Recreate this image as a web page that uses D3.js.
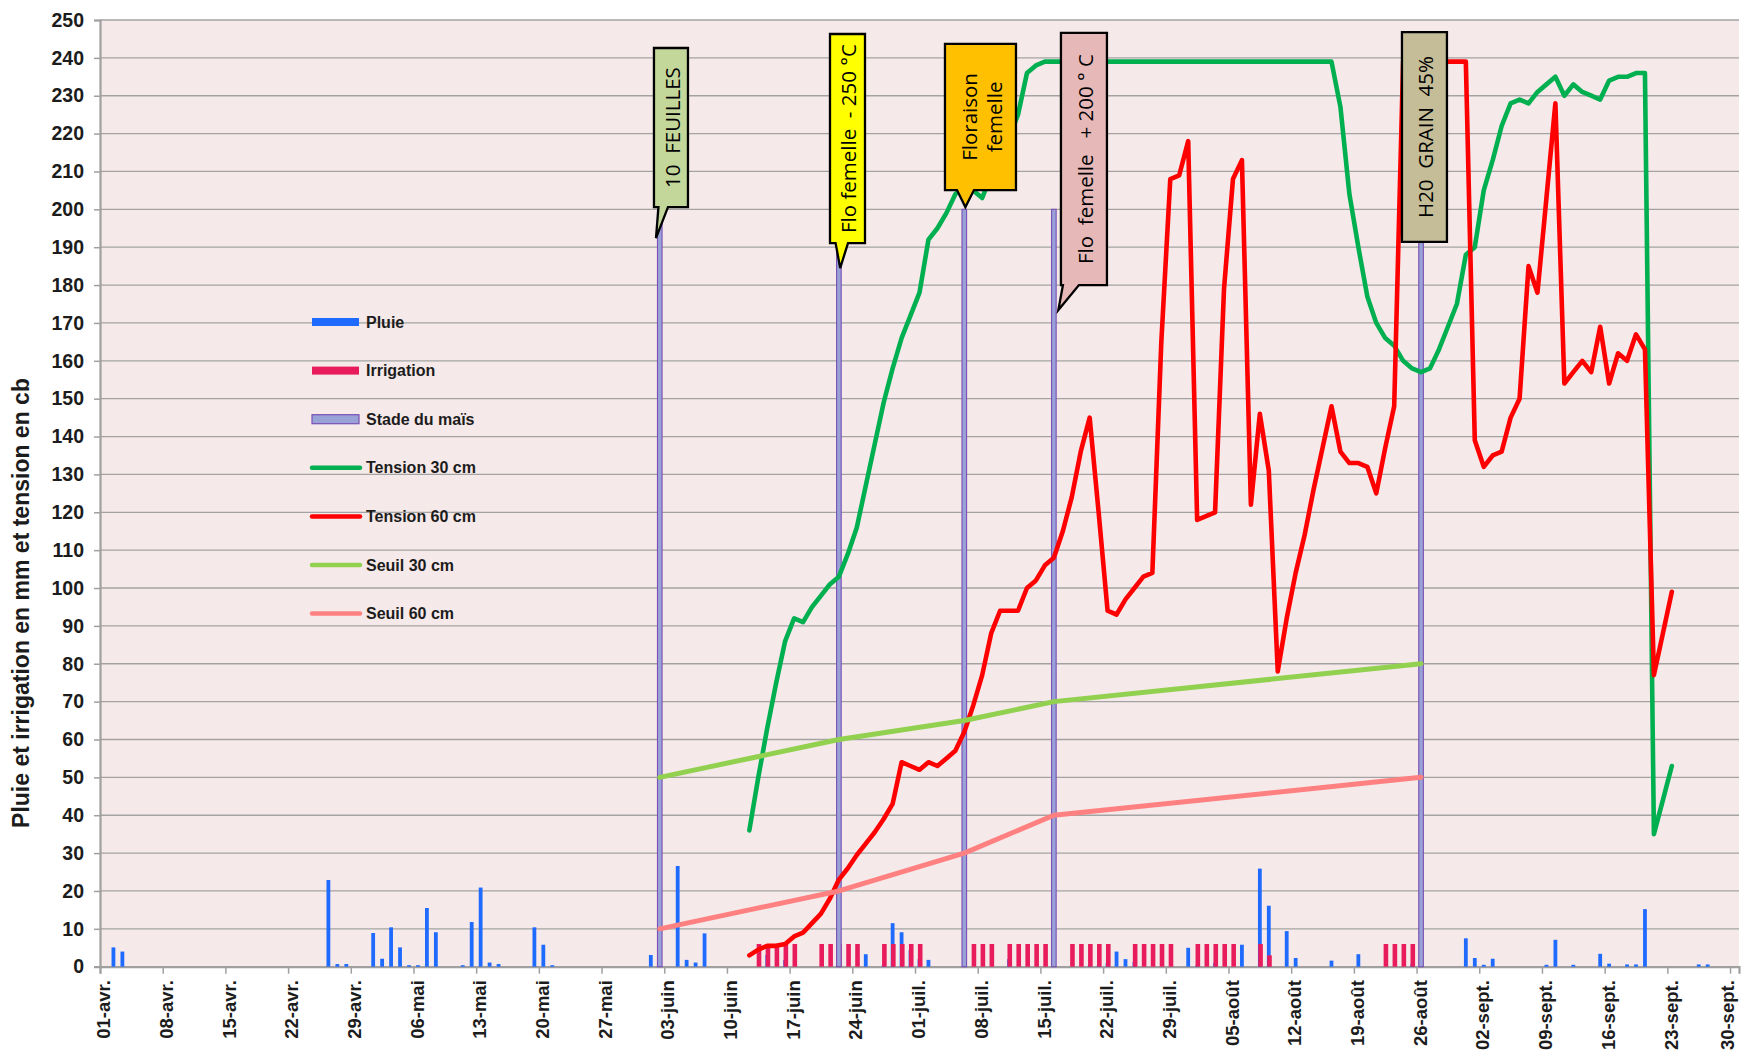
<!DOCTYPE html>
<html><head><meta charset="utf-8">
<script src="https://cdn.jsdelivr.net/npm/d3@7"></script>
<style>
html,body{margin:0;padding:0;background:#fff;}
svg{display:block;}
</style></head>
<body>
<svg id="chart" width="1742" height="1056"></svg>
<script>
// ---------------- DATA ----------------
const axisStart = "2013-04-01";
const axisEnd = "2013-10-01";
const yTickValues = [0,10,20,30,40,50,60,70,80,90,100,110,120,130,140,150,160,170,180,190,200,210,220,230,240,250];
const xTickLabels = ["01-avr.","08-avr.","15-avr.","22-avr.","29-avr.","06-mai","13-mai","20-mai","27-mai",
  "03-juin","10-juin","17-juin","24-juin","01-juil.","08-juil.","15-juil.","22-juil.","29-juil.",
  "05-août","12-août","19-août","26-août","02-sept.","09-sept.","16-sept.","23-sept.","30-sept."];
const yTitle = "Pluie et irrigation en mm et tension en cb";

const pluieDates = ["2013-04-02","2013-04-03","2013-04-26","2013-04-27","2013-04-28","2013-05-01","2013-05-02","2013-05-03",
  "2013-05-04","2013-05-05","2013-05-06","2013-05-07","2013-05-08","2013-05-11","2013-05-12","2013-05-13","2013-05-14",
  "2013-05-15","2013-05-19","2013-05-20","2013-05-21","2013-06-01","2013-06-04","2013-06-05","2013-06-06","2013-06-07",
  "2013-06-14","2013-06-16","2013-06-25","2013-06-27","2013-06-28","2013-06-29","2013-06-30","2013-07-01","2013-07-02",
  "2013-07-11","2013-07-20","2013-07-21","2013-07-22","2013-07-23","2013-07-24","2013-07-25","2013-07-31","2013-08-01",
  "2013-08-03","2013-08-06","2013-08-08","2013-08-09","2013-08-11","2013-08-12","2013-08-16","2013-08-19","2013-08-25",
  "2013-08-31","2013-09-01","2013-09-02","2013-09-03","2013-09-09","2013-09-10","2013-09-12","2013-09-15","2013-09-16",
  "2013-09-18","2013-09-19","2013-09-20","2013-09-26","2013-09-27"];
const pluieValues = [5.1,4.0,22.9,0.7,0.7,8.9,2.1,10.4,
  5.1,0.4,0.4,15.5,9.1,0.4,11.8,20.9,1.1,
  0.7,10.4,5.8,0.4,3.1,26.6,1.8,1.1,8.8,
  3.1,1.8,3.3,0.4,11.5,9.1,4.4,2.0,1.8,
  2.0,0.3,0.3,1.0,4.0,2.0,1.3,5.0,0.3,
  1.0,5.8,25.9,16.1,9.4,2.3,1.6,3.3,0.6,
  7.5,2.3,0.5,2.1,0.5,7.1,0.5,3.4,0.8,
  0.6,0.6,15.2,0.6,0.6];

const irrigationDates = ["2013-06-13","2013-06-14","2013-06-15","2013-06-16","2013-06-17",
  "2013-06-20","2013-06-21","2013-06-22","2013-06-23","2013-06-24",
  "2013-06-27","2013-06-28","2013-06-29","2013-06-30","2013-07-01",
  "2013-07-07","2013-07-08","2013-07-09",
  "2013-07-11","2013-07-12","2013-07-13","2013-07-14","2013-07-15",
  "2013-07-18","2013-07-19","2013-07-20","2013-07-21","2013-07-22",
  "2013-07-25","2013-07-26","2013-07-27","2013-07-28","2013-07-29",
  "2013-08-01","2013-08-02","2013-08-03","2013-08-04","2013-08-05",
  "2013-08-08","2013-08-09",
  "2013-08-22","2013-08-23","2013-08-24","2013-08-25"];
const irrigationValues = [6,6,6,6,6, 6,6,6,6,6, 6,6,6,6,6, 6,6,6, 6,6,6,6,6, 6,6,6,6,6, 6,6,6,6,6, 6,6,6,6,6, 6,3, 6,6,6,6];

const stadeDates = ["2013-06-02","2013-06-22","2013-07-06","2013-07-16","2013-08-26"];
const stadeValues = [200,200,200,200,200];
const stadeLabels = [["10  FEUILLES"],["Flo femelle  - 250 °C"],["Floraison","femelle"],["Flo  femelle   + 200 ° C"],["H20  GRAIN  45%"]];

const tensionStart = "2013-06-12";
const tension30 = [36,50,63,75,86,92,91,95,98,101,
  103,109,116,127,138,149,158,166,172,178,
  192,195,199,204,206,205,203,209,214,219,
  225,236,238,
  239,239,239,239,239,239,239,239,239,239,239,239,239,239,239,239,239,239,239,239,239,239,239,239,239,239,239,239,239,239,239,239,239,
  227,204,190,177,170,166,164,160,158,157,
  158,163,169,175,188,190,205,213,222,228,
  229,228,231,233,235,230,233,231,230,229,
  234,235,235,236,236,35,44,53];
const tension60 = [3,4.5,5.5,5.5,6,8,9,11.5,14,18,
  23,26,29.5,32.5,35.5,39,43,54,53,52,
  54,53,55,57,62,69,77,88,94,94,
  94,100,102,106,108,115,124,136,145,120,
  94,93,97,100,103,104,165,208,209,218,
  118,119,120,179,208,213,122,146,131,78,
  92,104,114,126,137,148,136,133,133,132,
  125,137,148,239,239,239,239,239,239,239,
  239,139,132,135,136,145,150,185,178,203,
  228,154,157,160,157,169,154,162,160,167,
  163,77,88,99];

const seuilDates = ["2013-06-02","2013-06-22","2013-07-06","2013-07-16","2013-08-26"];
const seuil30 = [50,60,65,70,80];
const seuil60 = [10,20,30,40,50];

const legendNames = ["Pluie","Irrigation","Stade du maïs","Tension 30 cm","Tension 60 cm","Seuil 30 cm","Seuil 60 cm"];

// ---------------- STYLE / LAYOUT ----------------
const C = {
  bg:"#f6e9e9", grid:"#a3a3a3", axis:"#a0a0a0", text:"#1c1c1c",
  pluie:"#1f6bff", irrigation:"#e81c5c", stadeFill:"#98a2d6", stadeStroke:"#7b4fb5",
  t30:"#00b050", t60:"#ff0000", s30:"#92d050", s60:"#ff8080"
};
const calloutFill = ["#c4d79b","#ffff00","#ffc000","#e6b9b8","#c4bd97"];
// box geometry: offsets (px) from the stage bar, vertical extents in data units
const calloutLayout = [
  {l:-5.8, r:28.2, top:242.6, bot:200.6, w:[-1.3,8.2], tip:[-3.8,192.4]},
  {l:-8.9, r:26.1, top:246.3, bot:191.1, w:[-3.3,9.1], tip:[1.3,184.5]},
  {l:-19.3, r:51.7, top:243.7, bot:205.1, w:[-7.3,9.7], tip:[1.1,200.6]},
  {l:7.1, r:53.1, top:246.6, bot:180.0, w:[9.1,25.1], tip:[4.5,173.4]},
  {l:-19.1, r:25.9, top:246.8, bot:191.4, w:null, tip:null}
];

const M = {left:100, right:1739, top:20, bottom:966.7};
const parse = d3.utcParse("%Y-%m-%d");
const mid = d => d3.utcHour.offset(d, 12);

const x = d3.scaleUtc().domain([parse(axisStart), parse(axisEnd)]).range([M.left, M.right]);
const y = d3.scaleLinear().domain([0,250]).range([M.bottom, M.top]);

const svg = d3.select("#chart");
svg.append("rect").attr("width",1742).attr("height",1056).attr("fill","#fff");
svg.append("rect").attr("x",M.left).attr("y",M.top).attr("width",M.right-M.left).attr("height",M.bottom-M.top).attr("fill",C.bg);

// gridlines
svg.append("g").selectAll("line").data(yTickValues.filter(v=>v>0)).join("line")
  .attr("x1",M.left).attr("x2",M.right).attr("y1",d=>y(d)).attr("y2",d=>y(d))
  .attr("stroke",C.grid).attr("stroke-width",1.3);

// y axis
const yAxis = svg.append("g").attr("transform",`translate(${M.left},0)`)
  .call(d3.axisLeft(y).tickValues(yTickValues).tickSize(6).tickPadding(10).tickFormat(d3.format("d")));
yAxis.select(".domain").attr("stroke",C.axis).attr("stroke-width",2.2);
yAxis.selectAll(".tick line").attr("stroke",C.axis).attr("stroke-width",1.5);
yAxis.selectAll(".tick text").attr("font-family","'Liberation Sans',Arial,sans-serif").attr("font-weight","bold")
  .attr("font-size",19.5).attr("fill",C.text).attr("x",-16);

// x axis
const tickDates = xTickLabels.map((_,i)=>d3.utcDay.offset(parse(axisStart), 7*i));
const labelShift = 3;
const xAxis = svg.append("g").attr("transform",`translate(0,${M.bottom})`)
  .call(d3.axisBottom(x).tickValues(tickDates).tickSize(7).tickFormat((d,i)=>xTickLabels[i]));
xAxis.select(".domain").attr("stroke",C.axis).attr("stroke-width",2.2);
xAxis.selectAll(".tick line").attr("stroke",C.axis).attr("stroke-width",1.5);
xAxis.selectAll(".tick text")
  .attr("font-family","'Liberation Sans',Arial,sans-serif").attr("font-weight","bold").attr("font-size",18.5)
  .attr("fill",C.text).attr("text-anchor","end").attr("transform","rotate(-90)")
  .attr("x",-13.5).attr("y",(d,i)=> i===xTickLabels.length-1 ? labelShift-6 : labelShift).attr("dy","0.36em");

// y title
svg.append("text").attr("transform","translate(21,603) rotate(-90)").attr("text-anchor","middle")
  .attr("dy","0.35em").attr("font-family","'Liberation Sans',Arial,sans-serif").attr("font-weight","bold")
  .attr("font-size",23).attr("fill",C.text).text(yTitle);

// bars: pluie
const pluie = pluieDates.map((d,i)=>({date:parse(d), v:pluieValues[i]}));
svg.append("g").selectAll("rect").data(pluie).join("rect")
  .attr("x",d=>x(mid(d.date))-1.9).attr("width",3.8)
  .attr("y",d=>y(d.v)).attr("height",d=>y(0)-y(d.v)).attr("fill",C.pluie);
// irrigation
const irr = irrigationDates.map((d,i)=>({date:parse(d), v:irrigationValues[i]}));
svg.append("g").selectAll("rect").data(irr).join("rect")
  .attr("x",d=>x(mid(d.date))-1.6).attr("width",4.6)
  .attr("y",d=>y(d.v)).attr("height",d=>y(0)-y(d.v)).attr("fill",C.irrigation);
// stade
const stade = stadeDates.map((d,i)=>({date:parse(d), v:stadeValues[i]}));
svg.append("g").selectAll("rect").data(stade).join("rect")
  .attr("x",d=>x(mid(d.date))-2.3).attr("width",4.6)
  .attr("y",d=>y(d.v)).attr("height",d=>y(0)-y(d.v))
  .attr("fill",C.stadeFill).attr("stroke",C.stadeStroke).attr("stroke-width",1.1);

// lines
const line = d3.line().x(d=>x(mid(d.date))).y(d=>y(d.v));
const seriesFrom = (start, vals) => vals.map((v,i)=>({date:d3.utcDay.offset(parse(start), i), v}));
const pts = (dates, vals) => dates.map((d,i)=>({date:parse(d), v:vals[i]}));
const drawLine = (data, color, w) => svg.append("path").datum(data).attr("d",line)
  .attr("fill","none").attr("stroke",color).attr("stroke-width",w)
  .attr("stroke-linejoin","round").attr("stroke-linecap","round");
drawLine(seriesFrom(tensionStart, tension30), C.t30, 4.6);
drawLine(seriesFrom(tensionStart, tension60), C.t60, 4.6);
drawLine(pts(seuilDates, seuil30), C.s30, 5);
drawLine(pts(seuilDates, seuil60), C.s60, 5);

// legend
const lg = svg.append("g").attr("font-family","'Liberation Sans',Arial,sans-serif").attr("font-weight","bold")
  .attr("font-size",16).attr("fill",C.text);
const legendKinds = [
  {t:"bar", c:C.pluie},{t:"bar", c:C.irrigation},{t:"box"},
  {t:"line", c:C.t30},{t:"line", c:C.t60},{t:"line", c:C.s30},{t:"line", c:C.s60}];
legendNames.forEach((name,i)=>{
  const cy = 322 + i*48.6;
  const k = legendKinds[i];
  if(k.t==="bar") lg.append("rect").attr("x",312).attr("y",cy-4).attr("width",47).attr("height",8).attr("fill",k.c);
  else if(k.t==="box") lg.append("rect").attr("x",312).attr("y",cy-4.5).attr("width",47).attr("height",9)
    .attr("fill",C.stadeFill).attr("stroke",C.stadeStroke).attr("stroke-width",1.2);
  else lg.append("line").attr("x1",312).attr("x2",360).attr("y1",cy).attr("y2",cy)
    .attr("stroke",k.c).attr("stroke-width",4.5).attr("stroke-linecap","round");
  lg.append("text").attr("x",366).attr("y",cy).attr("dy","0.35em").text(name);
});

// callouts
const cg = svg.append("g");
stade.forEach((s,i)=>{
  const L = calloutLayout[i];
  const sx = x(mid(s.date));
  const left = sx+L.l, right = sx+L.r, top = y(L.top), bot = y(L.bot);
  let p = `M${left},${top}H${right}V${bot}`;
  if(L.w){
    p += `H${sx+L.w[1]}L${sx+L.tip[0]},${y(L.tip[1])}L${sx+L.w[0]},${bot}`;
  }
  p += `H${left}Z`;
  cg.append("path").attr("d",p).attr("fill",calloutFill[i]).attr("stroke","#000").attr("stroke-width",2.3)
    .attr("stroke-linejoin","miter");
  const cx = (left+right)/2, cyy = (top+bot)/2;
  const lines = stadeLabels[i];
  lines.forEach((t,j)=>{
    const off = (j-(lines.length-1)/2)*25;
    cg.append("text").attr("transform",`translate(${cx+off+1.5},${cyy}) rotate(-90)`)
      .attr("text-anchor","middle").attr("dy","0.35em")
      .attr("font-family","'Open Sans',sans-serif").attr("font-size",20.5).attr("fill","#000")
      .attr("xml:space","preserve").style("white-space","pre").text(t);
  });
});
</script>
</body></html>
